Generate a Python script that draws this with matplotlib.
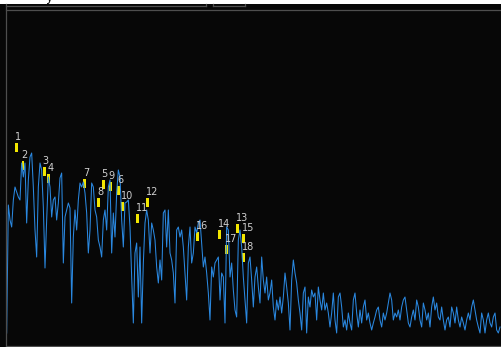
import numpy as np
import matplotlib
matplotlib.use("Agg")
import matplotlib.pyplot as plt
from matplotlib.lines import Line2D
from matplotlib.patches import Rectangle

# spectrum levels per FFT bin, split into three bands
levels_lo = [12, 140, 125, 118, 145, 158, 153, 148, 145, 182, 168, 182, 122, 165, 188, 192,
             158, 115, 88, 158, 182, 175, 138, 77, 125, 168, 158, 128, 145, 148, 125, 142,
             167, 172, 82, 128, 135, 142, 137, 42, 108, 135, 115, 145, 162, 158, 163, 152,
             132, 92, 115, 162, 158, 135, 128, 105, 98, 88, 125, 135, 115, 158, 165, 92,
             132, 108, 152, 175, 168, 125, 98, 142, 143, 145, 118, 68, 22, 92, 102, 48,
             98, 22, 82, 122, 135, 125, 92, 122, 115, 105, 78, 62, 85, 65, 132, 135, 98, 135]
levels_mid = [92, 85, 72, 42, 115, 118, 108, 115, 98, 72, 45, 98, 118, 82, 92, 118,
              112, 122, 125, 102, 78, 88, 72, 52, 25, 78, 68, 82, 85, 88, 45, 72,
              68, 22, 118, 115, 68, 82, 55, 35, 28, 105, 115, 98, 68, 45, 22, 82,
              88, 65, 38, 68, 78, 58, 42, 88, 65, 52, 68, 45, 52, 65, 38, 25,
              45, 35, 48, 32, 48, 72, 58, 42, 15, 65, 85, 72, 62, 45, 32, 15,
              52, 58, 12, 48, 38, 55, 48, 52, 25, 58, 45, 35, 52, 35, 42, 32, 18]
levels_hi = [32, 52, 25, 12, 48, 52, 38, 18, 25, 15, 32, 22, 15, 45, 52, 32, 18,
             35, 22, 38, 45, 25, 32, 22, 15, 22, 28, 35, 38, 25, 18, 32, 25, 32,
             42, 52, 45, 25, 32, 28, 35, 25, 38, 45, 48, 35, 22, 18, 28, 35, 25,
             45, 38, 25, 18, 42, 35, 25, 32, 18, 38, 48, 35, 42, 28, 25, 38, 25,
             15, 25, 28, 18, 38, 32, 22, 38, 25, 18, 28, 22, 15, 25, 32, 25, 38,
             45, 35, 25, 18, 12, 32, 25, 12, 25, 32, 22, 18, 28, 32, 15, 12, 18]

# peak markers: bin position, top level, label
marker_bins = [6.0, 9.8, 22.5, 25.4, 57.9, 67.1, 46.9, 55.1, 62.1, 69.7, 78.3, 84.5,
               138.5, 127.5, 141.9, 114.6, 132.1, 141.9]
marker_tops = [202, 184, 178, 171, 165, 159, 166, 147, 163, 143, 131, 147,
               121, 115, 111, 113, 100, 92]
marker_labels = [str(i) for i in range(1, 19)]

levels = np.array(levels_lo + levels_mid + levels_hi)
bins = np.arange(len(levels))

W, H = 501, 347
bg = "#070707"
grey = "#4e4e4e"

fig = plt.figure(figsize=(W / 100, H / 100), dpi=100, facecolor=bg)

def fx(px):
    return px / W

def fy(py):
    return 1 - py / H

# title strip and panel frames
fig.add_artist(Rectangle((0, fy(4)), 1, 4 / H, transform=fig.transFigure,
                         facecolor="white", edgecolor="none"))
fig.text(fx(46), fy(0.5), "y", fontsize=9, color="#111111", va="baseline")

def seg(x0, y0, x1, y1):
    fig.add_artist(Line2D([fx(x0), fx(x1)], [fy(y0), fy(y1)], color=grey,
                          lw=0.9, transform=fig.transFigure))

seg(5.5, 5.5, 206, 5.5)
seg(206, 4, 206, 5.5)
seg(212.5, 5.5, 245, 5.5)
seg(212.5, 4, 212.5, 5.5)
seg(245, 4, 245, 5.5)
seg(5.5, 10, 501, 10)
seg(5.5, 4, 5.5, 345.5)
seg(5.5, 345.5, 501, 345.5)

ax = fig.add_axes([fx(6), 1 - 345 / H, 495 / W, 334 / H])
ax.set_facecolor(bg)
for s in ax.spines.values():
    s.set_visible(False)
ax.set_xticks([])
ax.set_yticks([])
ax.set_xlim(-0.4, 296.6)
ax.set_ylim(0, 334)

ax.plot(bins, levels, color="#2a88e0", lw=0.75)

tops = np.array(marker_tops)
ax.bar(marker_bins, 8.5, bottom=tops - 8.5, width=1.8, color="#f2e600")
for b, t, lab in zip(marker_bins, marker_tops, marker_labels):
    ax.annotate(lab, (b - 0.9, t), xytext=(0, 3), textcoords="offset pixels",
                ha="left", va="baseline", fontsize=7, color="#d0d0d0")

fig.savefig("out.png", dpi=100, facecolor=bg)
